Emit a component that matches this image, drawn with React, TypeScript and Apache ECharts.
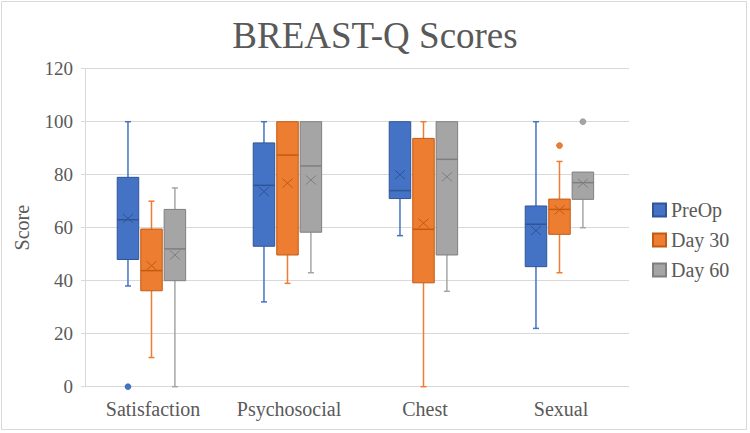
import React, { useEffect, useRef } from "react";
import * as echarts from "echarts";

const categories = ["Satisfaction", "Psychosocial", "Chest", "Sexual"];
const seriesNames = ["PreOp", "Day 30", "Day 60"];

// [min, q1, median, q3, max]
const preOpBox = [
  [38, 48, 63, 79, 100],
  [32, 53, 76, 92, 100],
  [57, 71, 74, 100, 100],
  [22, 45.3, 61.3, 68.2, 100],
];
const preOpMean = [63.5, 73.6, 80, 58.9];
const preOpOutliers = [[0, 0]]; // [category index, value]

const day30Box = [
  [11, 36.2, 43.8, 59.5, 70],
  [39, 49.7, 87.4, 100, 100],
  [0, 39.2, 59.4, 93.7, 100],
  [43, 57.5, 66.9, 70.8, 85],
];
const day30Mean = [45.7, 76.8, 61.7, 66.7];
const day30Outliers = [[3, 91]];

const day60Box = [
  [0, 40, 52, 66.9, 75],
  [43, 58.3, 83.3, 100, 100],
  [36, 49.7, 85.8, 100, 100],
  [60, 70.7, 77, 81, 81],
];
const day60Mean = [49.7, 78, 79.2, 76.8];
const day60Outliers = [[3, 100]];

const yTicks = { min: 0, max: 120, interval: 20 };

const FONT = "Liberation Serif";
const TEXT = "#595959";

function buildData(box: number[][], mean: number[]) {
  return box.map((b, i) => [i, b[0], b[1], b[2], b[3], b[4], mean[i]]);
}

function makeRender(offsetFrac: number, fill: string, dark: string, outliers: number[][]) {
  return (params: any, api: any) => {
    const cat = api.value(0);
    const bw = api.size([1, 0])[0];
    const cx = api.coord([cat, 0])[0] + bw * offsetFrac;
    const y = (v: number) => api.coord([cat, v])[1];
    const w = bw * 0.158;
    const half = w / 2;
    const cap = 3;
    const vMin = api.value(1);
    const q1 = api.value(2);
    const med = api.value(3);
    const q3 = api.value(4);
    const vMax = api.value(5);
    const mean = api.value(6);
    const children: any[] = [];
    const wStyle = { stroke: fill, lineWidth: 1.5 };
    if (vMin < q1) {
      children.push({ type: "line", shape: { x1: cx, y1: y(vMin), x2: cx, y2: y(q1) }, style: wStyle });
      children.push({ type: "line", shape: { x1: cx - cap, y1: y(vMin), x2: cx + cap, y2: y(vMin) }, style: wStyle });
    }
    if (vMax > q3) {
      children.push({ type: "line", shape: { x1: cx, y1: y(vMax), x2: cx, y2: y(q3) }, style: wStyle });
      children.push({ type: "line", shape: { x1: cx - cap, y1: y(vMax), x2: cx + cap, y2: y(vMax) }, style: wStyle });
    }
    children.push({
      type: "rect",
      shape: { x: cx - half, y: y(q3), width: w, height: y(q1) - y(q3) },
      style: { fill, stroke: dark, lineWidth: 1 },
    });
    children.push({
      type: "line",
      shape: { x1: cx - half, y1: y(med), x2: cx + half, y2: y(med) },
      style: { stroke: dark, lineWidth: 1.5 },
    });
    const my = y(mean);
    const mx = 5;
    const myh = 4.5;
    children.push({ type: "line", shape: { x1: cx - mx, y1: my - myh, x2: cx + mx, y2: my + myh }, style: { stroke: dark, lineWidth: 1 } });
    children.push({ type: "line", shape: { x1: cx - mx, y1: my + myh, x2: cx + mx, y2: my - myh }, style: { stroke: dark, lineWidth: 1 } });
    outliers
      .filter((o) => o[0] === cat)
      .forEach((o) => {
        children.push({
          type: "circle",
          shape: { cx, cy: y(o[1]), r: 3 },
          style: { fill, stroke: dark, lineWidth: 0.5 },
        });
      });
    return { type: "group", children };
  };
}

export default function App() {
  const ref = useRef<HTMLDivElement>(null);
  useEffect(() => {
    document.body.style.margin = "0";
    if (!ref.current) return;
    const chart = echarts.init(ref.current, undefined, { renderer: "svg" });
    const fills = ["#4472C4", "#ED7D31", "#A5A5A5"];
    const darks = ["#2F5597", "#C55A11", "#7F7F7F"];
    const offsets = [-0.184, -0.011, 0.161];
    const boxes = [preOpBox, day30Box, day60Box];
    const means = [preOpMean, day30Mean, day60Mean];
    const outs = [preOpOutliers, day30Outliers, day60Outliers];
    chart.setOption({
      animation: false,
      textStyle: { fontFamily: FONT },
      title: {
        text: "BREAST-Q Scores",
        left: "center",
        top: 12,
        textStyle: { fontFamily: FONT, fontSize: 37, fontWeight: "normal", color: TEXT },
      },
      legend: {
        orient: "vertical",
        left: 652,
        top: 200,
        padding: 0,
        itemWidth: 13,
        itemHeight: 13,
        itemGap: 10,
        icon: "rect",
        data: seriesNames,
        textStyle: { fontFamily: FONT, fontSize: 20, color: TEXT },
      },
      grid: { left: 85, right: 121, top: 68.7, bottom: 46.3 },
      graphic: [
        {
          type: "rect",
          z: -10,
          shape: { x: 1.5, y: 1.5, width: 745, height: 428 },
          style: { fill: "#fff", stroke: "#d9d9d9", lineWidth: 1 },
        },
      ],
      xAxis: {
        type: "category",
        data: categories,
        axisLine: { show: false },
        axisTick: { show: false },
        axisLabel: { fontFamily: FONT, fontSize: 20, color: TEXT, margin: 12 },
        splitLine: { show: false },
      },
      yAxis: {
        type: "value",
        min: yTicks.min,
        max: yTicks.max,
        interval: yTicks.interval,
        name: "Score",
        nameLocation: "middle",
        nameRotate: 90,
        nameGap: 53,
        nameTextStyle: { fontFamily: FONT, fontSize: 20, color: TEXT },
        axisLine: { show: true, lineStyle: { color: "#d9d9d9" } },
        axisTick: { show: true, length: 4, lineStyle: { color: "#d9d9d9" } },
        axisLabel: { fontFamily: FONT, fontSize: 19, color: TEXT, margin: 12 },
        splitLine: { show: true, lineStyle: { color: "#d9d9d9", width: 1 } },
      },
      series: seriesNames.map((name, i) => ({
        name,
        type: "custom",
        itemStyle: { color: fills[i], borderColor: darks[i], borderWidth: 1 },
        encode: { x: 0, y: [1, 2, 3, 4, 5, 6] },
        data: buildData(boxes[i], means[i]),
        renderItem: makeRender(offsets[i], fills[i], darks[i], outs[i]),
      })),
    });
    return () => chart.dispose();
  }, []);
  return <div ref={ref} style={{ width: 750, height: 433 }} />;
}
